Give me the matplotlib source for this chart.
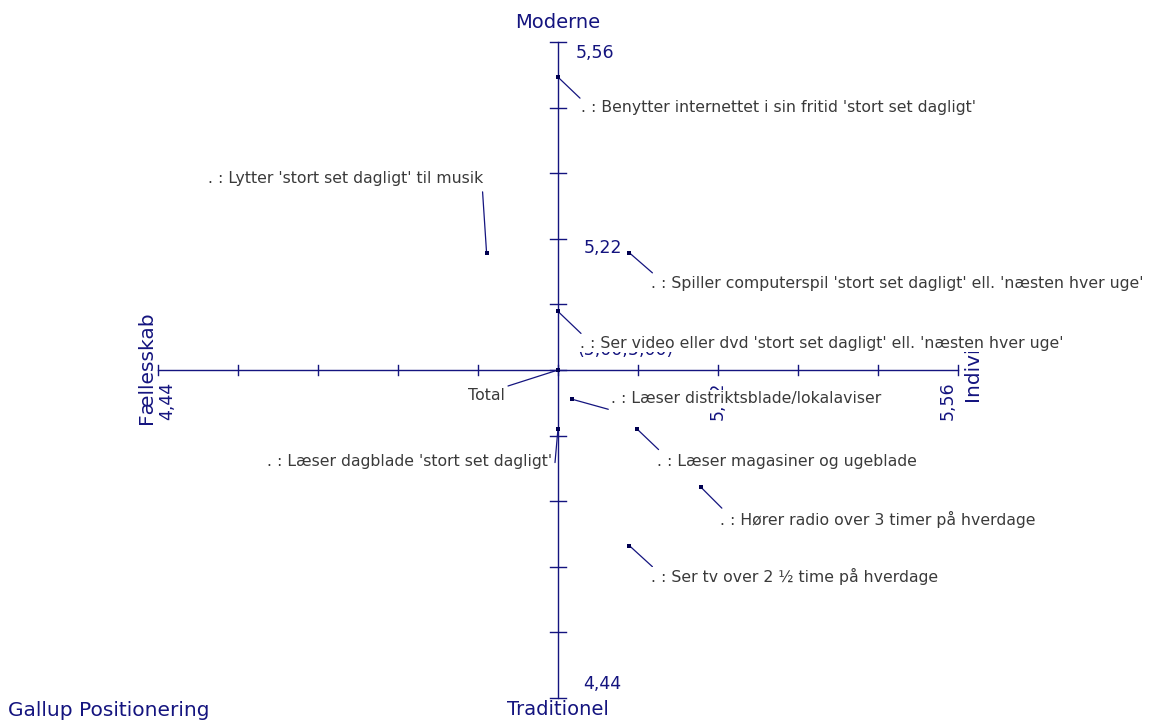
import matplotlib
matplotlib.use("Agg")
import matplotlib.pyplot as plt
from matplotlib.transforms import Bbox, TransformedBbox

plt.rcParams["font.family"] = ["DejaVu Sans"]

# =========================
# DATA
# =========================
labels = [
    ". : Benytter internettet i sin fritid 'stort set dagligt'",
    ". : Lytter 'stort set dagligt' til musik",
    ". : Spiller computerspil 'stort set dagligt' ell. 'næsten hver uge'",
    ". : Ser video eller dvd 'stort set dagligt' ell. 'næsten hver uge'",
    "Total",
    ". : Læser distriktsblade/lokalaviser",
    ". : Læser dagblade 'stort set dagligt'",
    ". : Læser magasiner og ugeblade",
    ". : Hører radio over 3 timer på hverdage",
    ". : Ser tv over 2 ½ time på hverdage",
]
x_vals = [5.00, 4.90, 5.10, 5.00, 5.00, 5.02, 5.00, 5.11, 5.20, 5.10]
y_vals = [5.50, 5.20, 5.20, 5.10, 5.00, 4.95, 4.90, 4.90, 4.80, 4.70]

axis_min, axis_max, axis_center = 4.44, 5.56, 5.00
n_steps = 10

# label placement (pixels): leader end, text anchor, alignment
leader_off = [(22, -21), (-4, 61), (23, -20), (23, -22), (-50, -16),
              (36, -10), (-3, -34), (22, -21), (21, -21), (23, -21)]
text_off = [(23, -30), (-3, 74), (22, -31), (22, -32), (-53, -25),
            (39, 1), (-6, -33), (20, -33), (19, -32), (22, -31)]
text_ha = ["left", "right", "left", "left", "right",
           "left", "right", "left", "left", "left"]

navy = "#14147f"
grey = "#3a3a3a"

# =========================
# FIGURE
# =========================
W, H = 1158, 722
fig = plt.figure(figsize=(W / 100, H / 100), dpi=100)
ax = fig.add_axes([0, 0, 1, 1])
sx = 1.12 / 800   # data per pixel, horizontal
sy = 1.12 / 656   # data per pixel, vertical
cx, cy = 558, 370
ax.set_xlim(axis_center - cx * sx, axis_center + (W - cx) * sx)
ax.set_ylim(axis_center - (H - cy) * sy, axis_center + cy * sy)
ax.axis("off")


def px(x, y):
    return axis_center + (x - cx) * sx, axis_center + (cy - y) * sy


# axes cross
ax.plot([axis_min, axis_max], [axis_center, axis_center], color=navy, lw=1, zorder=2)
ax.plot([axis_center, axis_center], [axis_min, axis_max], color=navy, lw=1, zorder=2)
step = (axis_max - axis_min) / n_steps
for i in range(n_steps + 1):
    t = axis_min + i * step
    ax.plot([t, t], [axis_center - 5 * sy, axis_center + 5 * sy], color=navy, lw=1, zorder=2)
    ax.plot([axis_center - 8 * sx, axis_center + 8 * sx], [t, t], color=navy, lw=1, zorder=2)

# axis titles
ax.text(*px(558, 23), "Moderne", color=navy, fontsize=14, ha="center", va="center")
ax.text(*px(558, 710), "Traditionel", color=navy, fontsize=14, ha="center", va="center")
ax.text(*px(146, 368), "Fællesskab", color=navy, fontsize=14.5, rotation=90,
        ha="center", va="center")
# right axis title is cut off in the original, only "Indivi" shows
indiv = ax.text(*px(972, 401), "Individualisme", color=navy, fontsize=14.5, rotation=90,
                ha="center", va="bottom", zorder=3)
lo, hi = px(950, 425), px(995, 352)
indiv.set_clip_on(True)
indiv.set_clip_path(None)
indiv.set_clip_box(TransformedBbox(Bbox.from_extents(lo[0], lo[1], hi[0], hi[1]),
                                   ax.transData))
ax.text(*px(8, 711), "Gallup Positionering", color=navy, fontsize=14.5, ha="left", va="center")

# tick value labels
ax.text(*px(576, 53), "5,56", color=navy, fontsize=12.5, ha="left", va="center")
ax.text(*px(583, 684), "4,44", color=navy, fontsize=12.5, ha="left", va="center")
ax.text(*px(584, 248), "5,22", color=navy, fontsize=12.5, ha="left", va="center")
ax.text(*px(167, 401), "4,44", color=navy, fontsize=12.5, rotation=90, ha="center", va="center")
ax.text(*px(948, 401), "5,56", color=navy, fontsize=12.5, rotation=90, ha="center", va="center")
ax.text(*px(718, 401), "5,22", color=navy, fontsize=12.5, rotation=90, ha="center", va="center")
ax.text(*px(577, 350), "(5,00;5,00)", color=navy, fontsize=12.5, ha="left", va="center")

# points, leaders and labels
ax.scatter(x_vals, y_vals, marker="s", s=8, color="#000050", zorder=6, linewidths=0)
for i, lab in enumerate(labels):
    ax.annotate("", xy=(x_vals[i], y_vals[i]), xytext=leader_off[i],
                textcoords="offset pixels",
                arrowprops=dict(arrowstyle="-", color=navy, lw=0.9,
                                shrinkA=0, shrinkB=0), zorder=4)
    ax.annotate(lab, xy=(x_vals[i], y_vals[i]), xytext=text_off[i],
                textcoords="offset pixels", ha=text_ha[i], va="center",
                fontsize=11.3, color=grey, zorder=5,
                bbox=dict(boxstyle="square,pad=0.05", fc="white", ec="none"))

plt.savefig("out.png", dpi=100)
